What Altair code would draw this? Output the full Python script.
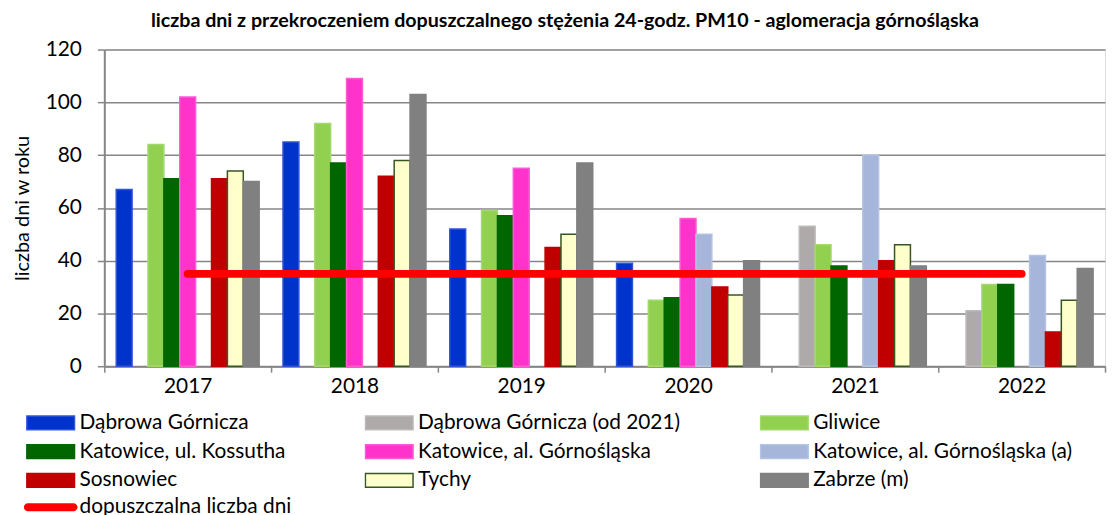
import altair as alt
import pandas as pd

FONT = "Lato"

years = ["2017", "2018", "2019", "2020", "2021", "2022"]
names = [
    "Dąbrowa Górnicza",
    "Dąbrowa Górnicza (od 2021)",
    "Gliwice",
    "Katowice, ul. Kossutha",
    "Katowice, al. Górnośląska",
    "Katowice, al. Górnośląska (a)",
    "Sosnowiec",
    "Tychy",
    "Zabrze (m)",
]
fills = ["#0033CC", "#AEAAAA", "#92D050", "#006600", "#FF33CC",
         "#A6B6DB", "#C00000", "#FFFFCC", "#808080"]
strokes = ["#2F55D4", "#BDBABA", "#A3D86E", "#006600", "#FF5AD5",
           "#B5C2E1", "#C00000", "#375623", "#808080"]

dabrowa = [67, 85, 52, 39, None, None]
dabrowa_2021 = [None, None, None, None, 53, 21]
gliwice = [84, 92, 59, 25, 46, 31]
kossutha = [71, 77, 57, 26, 38, 31]
gornoslaska = [102, 109, 75, 56, None, None]
gornoslaska_a = [None, None, None, 50, 80, 42]
sosnowiec = [71, 72, 45, 30, 40, 13]
tychy = [74, 78, 50, 27, 46, 25]
zabrze = [70, 103, 77, 40, 38, 37]
limit_days = [35, 35, 35, 35, 35, 35]
limit_label = "dopuszczalna liczba dni"

series_values = [dabrowa, dabrowa_2021, gliwice, kossutha, gornoslaska,
                 gornoslaska_a, sosnowiec, tychy, zabrze]

rows = []
for name, vals in zip(names, series_values):
    for yr, v in zip(years, vals):
        if v is not None:
            rows.append({"rok": yr, "seria": name, "dni": v})
df = pd.DataFrame(rows)
limit_df = pd.DataFrame({"rok": years, "dni": limit_days,
                         "lbl": [limit_label] * len(years)})

GRID = "#868686"

x_enc = alt.X(
    "rok:N", title=None, sort=years,
    scale=alt.Scale(paddingInner=0, paddingOuter=0),
    axis=alt.Axis(tickBand="extent", labelAngle=0, labelFont=FONT, labelFontSize=21,
                  labelColor="#000000", labelPadding=3, tickSize=6, tickColor=GRID,
                  tickWidth=1.5, domainColor=GRID, domainWidth=2, grid=False),
)
y_enc = alt.Y(
    "dni:Q", title="liczba dni w roku",
    scale=alt.Scale(domain=[0, 120], nice=False),
    axis=alt.Axis(values=[0, 20, 40, 60, 80, 100, 120], labelFont=FONT, labelFontSize=21,
                  labelColor="#000000", labelPadding=16, tickSize=7, tickColor=GRID,
                  tickWidth=1.5, domainColor=GRID, domainWidth=2, gridColor=GRID,
                  gridWidth=1.5, titleFont=FONT, titleFontSize=20, titleFontWeight="normal",
                  titleColor="#000000", titlePadding=13),
)

legend_spec = dict(
    title=None, orient="none", legendX=-79, legendY=366, columns=3, direction="horizontal",
    columnPadding=79, rowPadding=8, clipHeight=20, padding=0,
    symbolType="M-1,-0.29L1,-0.29L1,0.29L-1,0.29Z", symbolSize=2304,
    symbolStrokeWidth=1.5, symbolOpacity=1, labelFont=FONT, labelFontSize=21,
    labelColor="#000000", labelOffset=4, labelLimit=400,
)

bars = alt.Chart(df).mark_bar(strokeWidth=1.5, opacity=1).encode(
    x=x_enc,
    xOffset=alt.XOffset("seria:N", sort=names,
                        scale=alt.Scale(domain=names, paddingInner=0, paddingOuter=0.75)),
    y=y_enc,
    fill=alt.Fill("seria:N", sort=names, scale=alt.Scale(domain=names, range=fills),
                  legend=alt.Legend(**legend_spec)),
    stroke=alt.Stroke("seria:N", sort=names, scale=alt.Scale(domain=names, range=strokes),
                      legend=alt.Legend(**legend_spec)),
)

line = alt.Chart(limit_df).mark_line(strokeWidth=8, strokeCap="round").encode(
    x=x_enc,
    y=alt.Y("dni:Q"),
    color=alt.Color("lbl:N", scale=alt.Scale(domain=[limit_label], range=["#FF0000"]),
                    legend=alt.Legend(title=None, orient="none", legendX=-81, legendY=451,
                                      padding=0,
                                      symbolType="M-0.85,-0.15L0.85,-0.15A0.15,0.15 0 0 1 0.85,0.15L-0.85,0.15A0.15,0.15 0 0 1 -0.85,-0.15Z",
                                      symbolSize=2916, symbolStrokeWidth=0,
                                      symbolFillColor="#FF0000", clipHeight=20,
                                      labelFont=FONT, labelFontSize=21, labelColor="#000000",
                                      labelOffset=2, labelLimit=400)),
)

chart = alt.layer(bars, line).properties(
    width=1008, height=319,
    padding={"left": 97, "top": 40, "right": 2, "bottom": 148},
    autosize=alt.AutoSizeParams(type="none"),
    title=alt.Title(
        "liczba dni z przekroczeniem dopuszczalnego stężenia 24-godz. PM10 - aglomeracja górnośląska",
        font=FONT, fontSize=19.8, fontWeight="bold", color="#000000",
        anchor="middle", frame="group", dx=-40, offset=8),
).resolve_scale(color="independent").configure_view(stroke=None).configure(background="white")

chart.save("out.html", embed_options={"renderer": "svg", "actions": False})
